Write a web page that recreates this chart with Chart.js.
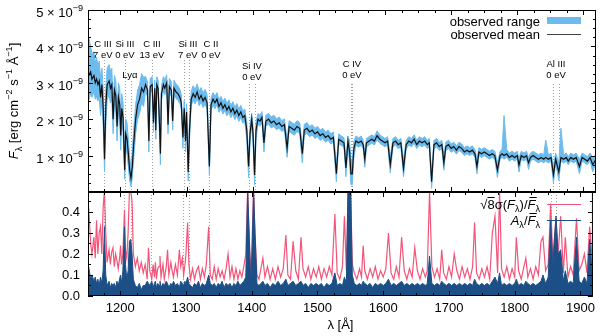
<!DOCTYPE html>
<html>
<head>
<meta charset="utf-8">
<script src="https://cdn.jsdelivr.net/npm/chart.js@4.4.1/dist/chart.umd.min.js"></script>
<style>
  html, body { margin: 0; padding: 0; background: #fff; }
  #wrap { position: relative; width: 600px; height: 336px; }
  canvas { position: absolute; left: 0; top: 0; }
</style>
</head>
<body>
<div id="wrap">
  <canvas id="fluxChart" width="600" height="194"></canvas>
  <canvas id="ratioChart" width="600" height="336"></canvas>
</div>
<script>
// wavelength grid [Å]
const wave = [
  1150,1152,1155,1157,1160,1162,1164,1166,1168,1170,
  1172,1174,1176,1178,1180,1183,1185,1187,1189,1191,
  1193,1195,1197,1199,1200.5,1202,1204,1206.5,1208,1210,
  1212,1214,1216,1218,1220,1223,1226,1229,1232,1235,
  1238,1241,1243,1245,1248,1250,1252,1253.5,1255,1257,
  1259,1260.5,1262,1265,1267,1270,1272,1274,1277,1279,
  1281,1284,1287,1290,1292,1294.5,1296.5,1298.5,1300,1302.5,
  1304.5,1307,1310,1313,1316,1319,1322,1325,1328,1331,
  1334.5,1337,1340,1343,1346,1349,1352,1355,1358,1361,
  1364,1367,1370,1373,1376,1379,1382,1385,1388,1391,
  1393.8,1396,1398.5,1400.5,1402.8,1405,1408,1411,1414,1417,
  1420,1424,1428,1432,1436,1440,1444,1448,1452,1455,
  1459,1463,1467,1471,1475,1478,1482,1486,1490,1494,
  1498,1502,1506,1510,1514,1518,1522,1526.5,1530,1534,
  1538,1541,1544,1546.5,1548.5,1550.5,1553,1556,1560,1564,
  1567,1569.5,1572,1576,1580,1584,1588,1592,1596,1600,
  1604,1608,1612,1616,1620,1624,1628,1632,1636,1640,
  1644,1648,1652,1656,1660,1664,1667,1670.5,1674,1678,
  1682,1686,1689,1692,1696,1700,1704,1708,1712,1716,
  1720,1724,1728,1732,1736,1739,1742,1746,1750,1754,
  1758,1762,1766,1770,1774,1777,1780,1784,1788,1792,
  1796,1800,1802.5,1806,1810,1814,1817,1820,1824,1828,
  1832,1836,1840,1843,1847,1851,1854.7,1858,1862.8,1866,
  1870,1874,1877,1881,1885,1889,1894,1898,1902,1906,
  1910,1914,1919
];

// flux in units of 1e-9 erg cm^-2 s^-1 Å^-1
const fluxMean = [
  3.45,3.20,3.30,3.10,3.20,3.00,3.10,2.95,3.05,2.60,
  2.95,2.30,0.90,2.40,2.95,3.05,2.85,2.95,2.00,2.80,
  2.65,1.80,2.60,2.40,1.55,2.30,2.05,0.60,1.60,1.45,
  1.05,0.60,0.38,0.70,1.30,2.00,2.40,2.55,2.85,2.75,
  2.95,2.80,1.40,2.90,2.95,1.90,2.85,1.70,2.95,2.85,
  1.90,1.05,2.70,2.95,2.85,3.00,1.85,2.90,2.80,1.95,
  2.85,2.75,2.70,2.60,2.45,1.50,2.30,1.40,2.20,0.55,
  1.70,2.55,2.70,2.60,2.75,2.55,2.65,2.50,2.60,2.45,
  0.70,2.40,2.55,2.45,2.55,2.35,2.45,2.30,2.40,2.25,
  2.35,2.20,2.30,2.15,2.25,2.10,2.20,2.05,2.10,1.70,
  0.70,1.60,2.00,1.60,0.47,1.70,2.00,1.95,2.05,1.35,
  1.95,2.00,1.90,1.95,1.85,1.90,1.80,1.85,1.20,1.80,
  1.75,1.70,1.80,1.75,1.05,1.70,1.75,1.65,1.70,1.60,
  1.65,1.55,1.60,1.50,1.55,1.45,1.50,0.50,1.45,1.40,
  1.35,0.66,1.40,1.10,0.50,0.50,1.20,1.40,1.35,1.40,
  1.30,0.90,1.35,1.40,1.45,1.40,1.55,1.45,1.40,1.35,
  1.40,0.75,1.35,1.40,1.30,1.35,0.65,1.30,1.40,1.35,
  1.45,1.30,1.40,1.35,1.40,1.30,1.35,0.28,1.30,1.35,
  1.25,1.30,0.80,1.25,1.30,1.20,1.25,1.15,1.25,1.20,
  1.10,1.15,1.10,1.15,1.05,0.70,1.10,1.05,1.10,1.05,
  1.00,1.05,1.00,0.60,1.00,1.05,1.00,1.05,0.95,1.00,
  0.95,1.00,0.74,1.00,0.95,1.00,0.80,0.95,1.00,0.95,
  0.90,0.95,0.90,0.95,0.90,0.95,0.47,0.90,0.55,0.95,
  0.90,0.95,0.85,0.95,0.90,0.95,0.70,0.95,0.90,0.85,
  0.95,0.75,0.90
];

const fluxLow = [
  2.55,2.50,2.70,2.60,2.75,2.55,2.60,2.50,2.60,2.10,
  2.50,1.80,0.55,1.90,2.55,2.65,2.45,2.55,1.60,2.40,
  2.25,1.40,2.20,2.00,1.15,1.90,1.65,0.35,1.20,1.05,
  0.70,0.30,0.15,0.40,0.90,1.60,2.00,2.15,2.45,2.35,
  2.77,2.62,1.10,2.72,2.77,1.65,2.67,1.45,2.77,2.67,
  1.65,0.75,2.52,2.77,2.67,2.82,1.60,2.72,2.62,1.70,
  2.67,2.57,2.52,2.42,2.27,1.20,2.12,1.10,2.02,0.30,
  1.45,2.37,2.52,2.42,2.57,2.37,2.47,2.32,2.42,2.27,
  0.45,2.24,2.39,2.29,2.39,2.19,2.29,2.14,2.24,2.09,
  2.19,2.04,2.14,1.99,2.09,1.94,2.04,1.89,1.94,1.45,
  0.40,1.35,1.85,1.35,0.20,1.45,1.86,1.81,1.91,1.10,
  1.81,1.86,1.76,1.81,1.71,1.76,1.66,1.71,0.95,1.66,
  1.61,1.56,1.66,1.61,0.80,1.56,1.61,1.52,1.57,1.47,
  1.52,1.42,1.47,1.37,1.42,1.32,1.37,0.28,1.32,1.28,
  1.23,0.42,1.28,0.80,0.20,0.20,0.95,1.28,1.23,1.28,
  1.19,0.68,1.24,1.29,1.34,1.29,1.44,1.34,1.29,1.24,
  1.29,0.52,1.24,1.29,1.19,1.24,0.42,1.19,1.29,1.24,
  1.34,1.19,1.29,1.24,1.29,1.19,1.24,0.10,1.19,1.24,
  1.14,1.19,0.60,1.14,1.19,1.09,1.14,1.04,1.14,1.09,
  1.00,1.05,1.00,1.05,0.95,0.50,1.00,0.95,1.00,0.95,
  0.90,0.95,0.90,0.40,0.90,0.95,0.90,0.95,0.85,0.90,
  0.85,0.90,0.55,0.90,0.85,0.90,0.62,0.85,0.90,0.85,
  0.80,0.85,0.80,0.85,0.80,0.85,0.25,0.80,0.32,0.85,
  0.80,0.85,0.75,0.85,0.80,0.85,0.50,0.85,0.80,0.75,
  0.85,0.55,0.80
];

const fluxHigh = [
  4.40,4.25,4.00,3.80,3.85,3.55,3.70,3.45,3.60,3.10,
  3.40,2.80,1.40,2.90,3.40,3.50,3.30,3.40,2.45,3.20,
  3.05,2.25,3.00,2.85,2.00,2.70,2.45,1.00,2.00,1.90,
  1.45,0.95,0.65,1.10,1.70,2.40,2.80,2.95,3.25,3.15,
  3.17,3.02,1.65,3.12,3.17,2.12,3.07,1.92,3.17,3.07,
  2.12,1.30,2.92,3.17,3.07,3.22,2.07,3.12,3.02,2.17,
  3.07,2.97,2.92,2.82,2.67,1.75,2.52,1.65,2.42,0.80,
  1.95,2.77,2.92,2.82,2.97,2.77,2.87,2.72,2.82,2.67,
  0.95,2.58,2.73,2.63,2.73,2.53,2.63,2.48,2.58,2.43,
  2.53,2.38,2.48,2.33,2.43,2.28,2.38,2.23,2.28,1.92,
  0.95,1.82,2.16,1.82,0.75,1.92,2.16,2.11,2.21,1.55,
  2.11,2.16,2.06,2.11,2.01,2.06,1.96,2.01,1.42,1.96,
  1.91,1.86,1.96,1.91,1.28,1.86,1.91,1.80,1.85,1.75,
  1.80,1.70,1.75,1.65,1.70,1.60,1.65,0.75,1.60,1.54,
  1.49,0.90,1.54,1.40,0.90,0.85,1.40,1.54,1.49,1.54,
  1.42,1.10,1.47,1.52,1.57,1.52,1.68,1.57,1.52,1.47,
  1.52,0.98,1.47,1.52,1.42,1.47,0.88,1.42,1.52,1.47,
  1.57,1.42,1.52,1.47,1.52,1.42,1.47,0.50,1.42,1.47,
  1.37,1.42,1.00,1.37,1.42,1.32,1.37,1.27,1.37,1.32,
  1.22,1.27,1.22,1.27,1.17,0.90,1.22,1.17,1.22,1.17,
  1.12,1.17,1.12,0.80,1.12,1.17,2.10,1.17,1.07,1.12,
  1.07,1.12,0.92,1.12,1.07,1.12,0.95,1.07,1.12,1.07,
  1.02,1.07,1.02,1.43,1.02,1.07,0.70,1.07,0.80,1.75,
  1.02,1.07,0.97,1.07,1.02,1.07,0.90,1.07,1.02,0.97,
  1.07,0.95,1.02
];

// sqrt(8) sigma(F) / mean F
const sigmaRatio = [
  0.30,0.42,0.25,0.20,0.28,0.18,0.36,0.20,0.30,0.33,
  0.20,0.42,0.50,0.30,0.16,0.22,0.15,0.21,0.23,0.14,
  0.20,0.17,0.13,0.18,0.24,0.15,0.20,0.41,0.22,0.18,
  0.30,0.50,0.50,0.45,0.20,0.14,0.18,0.12,0.16,0.11,
  0.15,0.08,0.23,0.12,0.08,0.15,0.09,0.16,0.08,0.13,
  0.14,0.19,0.09,0.15,0.08,0.14,0.22,0.10,0.16,0.12,
  0.09,0.15,0.10,0.22,0.14,0.18,0.10,0.15,0.20,0.35,
  0.15,0.08,0.13,0.08,0.12,0.14,0.08,0.13,0.09,0.15,
  0.33,0.10,0.08,0.14,0.08,0.13,0.09,0.12,0.08,0.13,
  0.20,0.09,0.14,0.08,0.13,0.08,0.12,0.09,0.14,0.20,
  0.50,0.30,0.10,0.25,0.50,0.30,0.10,0.08,0.13,0.18,
  0.09,0.14,0.08,0.13,0.08,0.14,0.09,0.13,0.29,0.10,
  0.08,0.26,0.12,0.08,0.28,0.13,0.09,0.14,0.08,0.13,
  0.09,0.14,0.08,0.13,0.09,0.14,0.10,0.39,0.11,0.08,
  0.14,0.38,0.12,0.50,0.50,0.50,0.15,0.11,0.08,0.13,
  0.09,0.24,0.12,0.08,0.13,0.09,0.14,0.08,0.12,0.09,
  0.13,0.30,0.11,0.08,0.14,0.09,0.28,0.12,0.08,0.13,
  0.09,0.23,0.12,0.08,0.13,0.09,0.12,0.50,0.14,0.09,
  0.13,0.08,0.22,0.11,0.08,0.14,0.09,0.20,0.12,0.08,
  0.14,0.09,0.13,0.08,0.14,0.35,0.11,0.08,0.13,0.09,
  0.14,0.08,0.30,0.38,0.11,0.50,0.13,0.09,0.14,0.08,
  0.13,0.09,0.28,0.12,0.08,0.14,0.18,0.09,0.13,0.08,
  0.14,0.10,0.26,0.28,0.12,0.15,0.44,0.18,0.37,0.20,
  0.38,0.11,0.28,0.09,0.14,0.10,0.37,0.12,0.15,0.20,
  0.11,0.33,0.13
];

// A / mean F
const ampRatio = [
  0.12,0.14,0.08,0.10,0.07,0.09,0.06,0.08,0.05,0.09,
  0.06,0.12,0.33,0.10,0.05,0.07,0.04,0.06,0.05,0.06,
  0.04,0.07,0.05,0.08,0.10,0.06,0.12,0.33,0.15,0.08,
  0.12,0.26,0.27,0.20,0.08,0.05,0.04,0.06,0.03,0.05,
  0.05,0.07,0.06,0.05,0.07,0.04,0.06,0.07,0.04,0.06,
  0.05,0.07,0.04,0.06,0.05,0.07,0.06,0.04,0.06,0.05,
  0.07,0.05,0.06,0.04,0.07,0.06,0.05,0.07,0.06,0.09,
  0.06,0.05,0.04,0.06,0.05,0.07,0.04,0.06,0.05,0.06,
  0.10,0.06,0.05,0.06,0.04,0.06,0.05,0.07,0.04,0.06,
  0.05,0.06,0.04,0.06,0.05,0.07,0.05,0.06,0.07,0.09,
  0.50,0.30,0.06,0.20,0.50,0.30,0.06,0.05,0.06,0.07,
  0.05,0.06,0.04,0.06,0.05,0.07,0.05,0.06,0.08,0.05,
  0.06,0.07,0.05,0.06,0.07,0.05,0.06,0.04,0.06,0.05,
  0.06,0.05,0.06,0.04,0.06,0.05,0.06,0.11,0.05,0.06,
  0.05,0.09,0.06,0.50,0.50,0.50,0.10,0.06,0.05,0.06,
  0.05,0.07,0.06,0.05,0.06,0.04,0.06,0.05,0.06,0.05,
  0.06,0.08,0.05,0.06,0.05,0.06,0.07,0.05,0.06,0.05,
  0.06,0.05,0.06,0.05,0.06,0.05,0.06,0.19,0.06,0.05,
  0.06,0.05,0.07,0.06,0.05,0.06,0.05,0.06,0.05,0.06,
  0.05,0.06,0.05,0.06,0.05,0.08,0.06,0.05,0.06,0.05,
  0.06,0.05,0.07,0.09,0.06,0.11,0.05,0.06,0.05,0.06,
  0.05,0.06,0.08,0.05,0.06,0.05,0.07,0.06,0.05,0.06,
  0.05,0.06,0.07,0.10,0.06,0.09,0.36,0.15,0.38,0.20,
  0.22,0.07,0.12,0.06,0.07,0.06,0.28,0.07,0.06,0.09,
  0.06,0.27,0.07
];

// line identifications
const ionNames = ['C III', 'Si III', 'Lyα', 'C III', 'Si III', 'C II', 'Si IV', 'C IV', 'Al III'];
const ionEnergies = ['7 eV', '0 eV', '', '13 eV', '7 eV', '0 eV', '0 eV', '0 eV', '0 eV'];
const ionLabelWave = [1173.5, 1206.8, 1214.4, 1247.6, 1302, 1336.8, 1398.8, 1550, 1858.5];
const lineWave = [1175.7, 1206.5, 1215.7, 1247.4, 1296, 1304, 1334.5, 1393.8, 1402.8, 1548.2, 1550.8, 1854.7, 1862.8];

// tick labels
const waveTicks = [1200, 1300, 1400, 1500, 1600, 1700, 1800, 1900];
const fluxTicks = [1, 2, 3, 4, 5];
const ratioTicks = [0, 0.1, 0.2, 0.3, 0.4];

// layout (pixels)
const labelRowY = [44, 44, 75, 44, 44, 44, 66, 64, 64];
const lineTopY = [60, 60, 81, 60, 60, 60, 60, 84, 84, 84, 84, 84, 84];

const FONT = '"Liberation Sans", Arial, Helvetica, sans-serif';
const BAND = '#6cbbec';
const MEAN = '#111111';
const PINK = '#f2557a';
const NAVY = '#1c4f86';

const toPts = ys => wave.map((w, i) => ({ x: w, y: ys[i] }));

function partFont(p, size) {
  const s = (p.sub || p.sup) ? size * 0.7 : size;
  return (p.it ? 'italic ' : '') + s + 'px ' + FONT;
}

// draw text made of parts (sub/superscripts, overbars); y is the baseline
function drawRich(ctx, parts, x, y, size, align) {
  let total = 0;
  parts.forEach(p => { ctx.font = partFont(p, size); total += ctx.measureText(p.t).width; });
  let cx = align === 'right' ? x - total : align === 'center' ? x - total / 2 : x;
  ctx.textAlign = 'left';
  ctx.textBaseline = 'alphabetic';
  parts.forEach(p => {
    ctx.font = partFont(p, size);
    const w = ctx.measureText(p.t).width;
    const dy = p.sub ? size * 0.3 : p.sup ? -size * 0.45 : 0;
    ctx.fillText(p.t, cx, y + dy);
    if (p.bar || p.root) {
      const by = Math.round(y - size * (p.root ? 0.86 : 0.9)) + 0.5;
      ctx.beginPath();
      ctx.lineWidth = 1;
      ctx.moveTo(cx + (p.bar ? size * 0.15 : 0), by);
      ctx.lineTo(cx + w + (p.bar ? size * 0.1 : 0), by);
      ctx.stroke();
    }
    cx += w;
  });
}

function drawTicks(ctx, a, scale, major, minor, horizontal) {
  for (let v = Math.ceil(scale.min / minor) * minor; v <= scale.max + 1e-9; v += minor) {
    const isMajor = Math.abs(v / major - Math.round(v / major)) < 1e-6;
    const len = isMajor ? 5 : 3;
    const p = Math.round(scale.getPixelForValue(v)) + 0.5;
    ctx.beginPath();
    if (horizontal) {
      ctx.moveTo(p, a.bottom); ctx.lineTo(p, a.bottom - len);
      ctx.moveTo(p, a.top); ctx.lineTo(p, a.top + len);
    } else {
      ctx.moveTo(a.left, p); ctx.lineTo(a.left + len, p);
      ctx.moveTo(a.right, p); ctx.lineTo(a.right - len, p);
    }
    ctx.stroke();
  }
}

function drawLegend(ctx, entries) {
  entries.forEach(e => {
    ctx.fillStyle = '#000';
    ctx.strokeStyle = '#000';
    drawRich(ctx, e.parts, 540, e.y + 4.5, 13, 'right');
    if (e.kind === 'band') {
      ctx.fillStyle = e.color;
      ctx.fillRect(547, e.y - 4, 34, 7);
    } else {
      ctx.strokeStyle = e.color;
      ctx.lineWidth = 1.2;
      ctx.beginPath();
      ctx.moveTo(547, e.y + 0.5);
      ctx.lineTo(581, e.y + 0.5);
      ctx.stroke();
    }
  });
}

function panelDecor(cfg) {
  return {
    id: 'panelDecor',
    beforeDatasetsDraw(chart) {
      const { ctx, chartArea: a, scales: { x } } = chart;
      ctx.save();
      ctx.strokeStyle = '#a0a0a0';
      ctx.lineWidth = 1;
      ctx.setLineDash([1, 2]);
      lineWave.forEach((w, i) => {
        const px = Math.round(x.getPixelForValue(w)) + 0.5;
        const top = cfg.labels ? lineTopY[i] : a.top;
        ctx.beginPath();
        ctx.moveTo(px, top);
        ctx.lineTo(px, a.bottom);
        ctx.stroke();
      });
      ctx.restore();
    },
    afterDraw(chart) {
      const { ctx, chartArea: a, scales: { x, y } } = chart;
      ctx.save();
      ctx.setLineDash([]);
      ctx.strokeStyle = '#000';
      ctx.lineWidth = 1;
      ctx.strokeRect(a.left + 0.5, a.top + 0.5, a.right - a.left - 1, a.bottom - a.top - 1);
      drawTicks(ctx, a, x, 100, 25, true);
      drawTicks(ctx, a, y, cfg.yMajor, cfg.yMinor, false);

      ctx.fillStyle = '#000';
      if (cfg.labels) {
        ctx.font = '9.5px ' + FONT;
        ctx.textAlign = 'center';
        ctx.textBaseline = 'middle';
        ionNames.forEach((name, i) => {
          const px = x.getPixelForValue(ionLabelWave[i]);
          ctx.fillText(name, px, labelRowY[i]);
          if (ionEnergies[i]) ctx.fillText(ionEnergies[i], px, labelRowY[i] + 11);
        });

        fluxTicks.forEach(v => {
          const py = y.getPixelForValue(v);
          drawRich(ctx, [{ t: v + ' × 10' }, { t: '−9', sup: true }], 83, py + 7, 13, 'right');
        });

        ctx.save();
        ctx.translate(18, (a.top + a.bottom) / 2);
        ctx.rotate(-Math.PI / 2);
        drawRich(ctx, [
          { t: 'F', it: true }, { t: 'λ', sub: true }, { t: ' [erg cm' }, { t: '−2', sup: true },
          { t: ' s' }, { t: '−1', sup: true }, { t: ' Å' }, { t: '−1', sup: true }, { t: ']' }
        ], 0, 0, 13, 'center');
        ctx.restore();
      }
      drawLegend(ctx, cfg.legend);
      ctx.restore();
    }
  };
}

const common = {
  animation: false,
  responsive: false,
  events: [],
  elements: { point: { radius: 0 }, line: { tension: 0 } },
  plugins: { legend: { display: false }, tooltip: { enabled: false } }
};

new Chart(document.getElementById('fluxChart'), {
  type: 'line',
  data: {
    datasets: [
      { label: 'observed mean', data: toPts(fluxMean), borderColor: MEAN, borderWidth: 1.2, fill: false, order: 0 },
      { label: 'range high', data: toPts(fluxHigh), borderColor: BAND, backgroundColor: BAND, borderWidth: 1, fill: '+1', order: 1 },
      { label: 'range low', data: toPts(fluxLow), borderColor: BAND, borderWidth: 1, fill: false, order: 2 }
    ]
  },
  options: {
    ...common,
    layout: { padding: { left: 88, right: 4, top: 10, bottom: 2 } },
    scales: {
      x: { type: 'linear', min: 1151, max: 1919, display: false },
      y: { type: 'linear', min: 0, max: 5, display: false }
    }
  },
  plugins: [panelDecor({
    labels: true, yMajor: 1, yMinor: 0.25,
    legend: [
      { parts: [{ t: 'observed range' }], y: 21, kind: 'band', color: BAND },
      { parts: [{ t: 'observed mean' }], y: 34, kind: 'line', color: '#444' }
    ]
  })]
});

new Chart(document.getElementById('ratioChart'), {
  type: 'line',
  data: {
    datasets: [
      { label: 'A/F', data: toPts(ampRatio), borderColor: NAVY, backgroundColor: NAVY, borderWidth: 1, fill: 'origin', order: 0 },
      { label: 'sigma', data: toPts(sigmaRatio), borderColor: PINK, borderWidth: 1.2, fill: false, order: 1 }
    ]
  },
  options: {
    ...common,
    layout: { padding: { left: 0, right: 4, top: 192, bottom: 0 } },
    scales: {
      x: {
        type: 'linear', min: 1151, max: 1919,
        afterBuildTicks: s => { s.ticks = waveTicks.map(v => ({ value: v })); },
        afterFit: s => { s.height = 40; },
        ticks: { autoSkip: false, maxRotation: 0, padding: 5, color: '#000',
                 font: { family: FONT, size: 13 }, callback: v => String(v) },
        grid: { display: false, drawTicks: false },
        border: { display: false },
        title: { display: true, text: 'λ [Å]', color: '#000', font: { family: FONT, size: 13 },
                 padding: { top: 0, bottom: 3 } }
      },
      y: {
        type: 'linear', min: 0, max: 0.495,
        afterBuildTicks: s => { s.ticks = ratioTicks.map(v => ({ value: v })); },
        afterFit: s => { s.width = 88; },
        ticks: { padding: 8, color: '#000', font: { family: FONT, size: 13 },
                 callback: v => v.toFixed(1) },
        grid: { display: false, drawTicks: false },
        border: { display: false }
      }
    }
  },
  plugins: [panelDecor({
    labels: false, yMajor: 0.1, yMinor: 0.05,
    legend: [
      { parts: [{ t: '√' }, { t: '8', root: true }, { t: 'σ(' }, { t: 'F', it: true }, { t: 'λ', sub: true },
                { t: ')/' }, { t: 'F', it: true, bar: true }, { t: 'λ', sub: true }], y: 204, kind: 'line', color: PINK },
      { parts: [{ t: 'A', it: true }, { t: 'λ', sub: true }, { t: '/' }, { t: 'F', it: true, bar: true },
                { t: 'λ', sub: true }], y: 220, kind: 'line', color: NAVY }
    ]
  })]
});
</script>
</body>
</html>
